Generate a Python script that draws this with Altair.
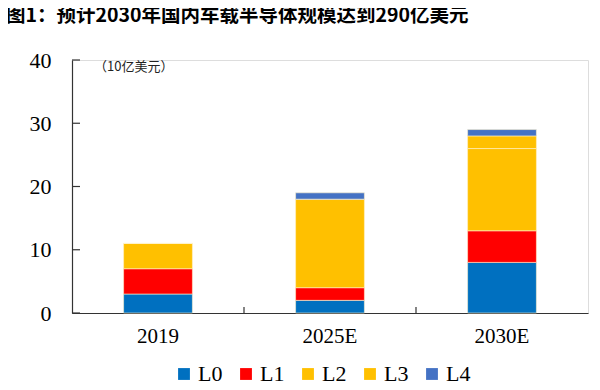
import altair as alt
import pandas as pd

categories = ["2019", "2025E", "2030E"]
levels = ["L0", "L1", "L2", "L3", "L4"]
L0 = [3, 2, 8]
L1 = [4, 2, 5]
L2 = [4, 14, 13]
L3 = [0, 0, 2]
L4 = [0, 1, 1]
colors = ["#0070C0", "#FF0000", "#FFC000", "#FFC000", "#4472C4"]
y_ticks = [0, 10, 20, 30, 40]
title_text = "图1：预计2030年国内车载半导体规模达到290亿美元"
unit_text = "（10亿美元）"

rows = []
for lv, vals in zip(levels, [L0, L1, L2, L3, L4]):
    for c, v in zip(categories, vals):
        rows.append({"year": c, "level": lv, "value": v})
df = pd.DataFrame(rows)

W, H = 516, 253
SERIF = "Liberation Serif"
CJK = "Noto Sans CJK SC"

xscale = alt.Scale(domain=categories, paddingInner=0, paddingOuter=0)
yscale = alt.Scale(domain=[0, 40], nice=False)

bars = alt.Chart(df).mark_bar(
    width=alt.RelativeBandSize(0.4), stroke="#FFF2CC", strokeWidth=0.6
).encode(
    x=alt.X("year:N", scale=xscale, sort=categories,
            axis=alt.Axis(title=None, labelAngle=0, tickSize=0, labelPadding=12,
                          labelFont=SERIF, labelFontSize=21, labelColor="black",
                          domainColor="#333333", domainWidth=1.2, ticks=False)),
    y=alt.Y("value:Q", scale=yscale, stack="zero",
            axis=alt.Axis(title=None, values=y_ticks, grid=False, tickSize=0, ticks=False,
                          labelPadding=21, labelFont=SERIF, labelFontSize=22,
                          labelColor="black", domainColor="#333333", domainWidth=1.2)),
    color=alt.Color("level:N", scale=alt.Scale(domain=levels, range=colors),
                    legend=alt.Legend(title=None, orient="none", direction="horizontal",
                                      legendX=101, legendY=303, symbolType="square",
                                      symbolSize=140, symbolStrokeWidth=0,
                                      labelFont=SERIF, labelFontSize=22, labelColor="black",
                                      labelOffset=3, columnPadding=12)),
    order=alt.Order("level:N", sort="ascending"),
)

ytick_df = pd.DataFrame({"t": y_ticks})
yticks = alt.Chart(ytick_df).mark_rule(color="#333333", strokeWidth=1.2).encode(
    y=alt.Y("t:Q", scale=yscale),
    x=alt.value(0), x2=alt.value(8),
)

xtick_df = pd.DataFrame({"c": categories[1:]})
xticks = alt.Chart(xtick_df).mark_rule(color="#333333", strokeWidth=1.2).encode(
    x=alt.X("c:N", scale=xscale, bandPosition=0),
    y=alt.value(H - 6), y2=alt.value(H),
)

title = alt.Chart(pd.DataFrame({"t": [title_text]})).mark_text(
    align="left", baseline="middle", font=CJK, fontSize=19.5, fontWeight="bold", color="black"
).encode(x=alt.value(-66), y=alt.value(-44), text="t:N")

unit = alt.Chart(pd.DataFrame({"t": [unit_text]})).mark_text(
    align="left", baseline="middle", font=CJK, fontSize=13, color="#222222"
).encode(x=alt.value(22), y=alt.value(7), text="t:N")

chart = alt.layer(bars, yticks, xticks, title, unit).properties(
    width=W, height=H,
    autosize=alt.AutoSizeParams(type="none"),
    padding={"left": 64, "top": 52, "right": 4, "bottom": 69},
).configure_view(stroke=None).configure(background="white")

chart.save("out.html", embed_options={"renderer": "svg", "actions": False})
